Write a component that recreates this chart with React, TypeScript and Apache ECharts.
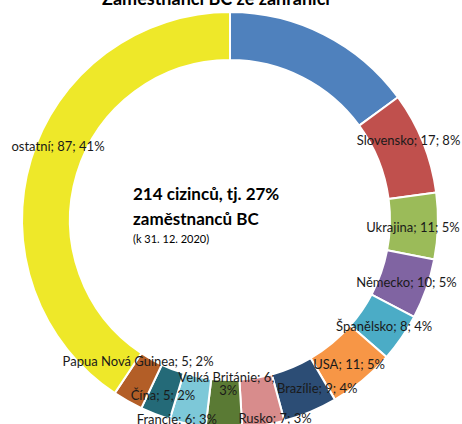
import React, { useEffect, useRef } from "react";
import * as echarts from "echarts";

const categories = [
  "(nepopsáno)",
  "Slovensko",
  "Ukrajina",
  "Německo",
  "Španělsko",
  "USA",
  "Brazílie",
  "Rusko",
  "Velká Británie",
  "Francie",
  "Čína",
  "Papua Nová Guinea",
  "ostatní",
];
const values = [32, 17, 11, 10, 8, 11, 9, 7, 6, 6, 5, 5, 87];
const colors = [
  "#4F81BD",
  "#C0504D",
  "#9BBB59",
  "#8064A2",
  "#4BACC6",
  "#F79646",
  "#2C4D75",
  "#D88C8C",
  "#5A7A34",
  "#7DC8D8",
  "#246A78",
  "#B35E27",
  "#EEE829",
];
const labelOffsets: Record<string, number[]> = {
  Slovensko: [5, -10],
  Ukrajina: [-4, 2],
  Brazílie: [15, -5],
  Rusko: [15, 13],
  "Velká Británie": [2, -23],
  Francie: [-15, 16],
  "Papua Nová Guinea": [0, -22],
  ostatní: [7, -20],
};
const titleText = "Zaměstnanci BC ze zahraničí";
const centerLines = ["214 cizinců, tj. 27%", "zaměstnanců BC", "(k 31. 12. 2020)"];

const FONT = "Lato, 'Open Sans', sans-serif";

export default function App() {
  const ref = useRef<HTMLDivElement>(null);
  useEffect(() => {
    document.body.style.margin = "0";
    const chart = echarts.init(ref.current!, null, { renderer: "svg" });
    const total = values.reduce((a, b) => a + b, 0);
    const data = categories.map((name, i) => {
      const item: any = {
        name,
        value: values[i],
        itemStyle: { color: colors[i] },
      };
      if (i === 0) item.label = { show: false };
      else if (name === "Velká Británie")
        item.label = { offset: labelOffsets[name], width: 112, overflow: "break", align: "center" };
      else if (labelOffsets[name]) item.label = { offset: labelOffsets[name] };
      return item;
    });
    chart.setOption({
      animation: false,
      textStyle: { fontFamily: FONT },
      graphic: [
        {
          type: "text",
          x: 216,
          y: -11,
          style: {
            text: titleText,
            font: `bold 18px ${FONT}`,
            fill: "#000",
            align: "center",
          },
        },
        {
          type: "text",
          x: 133,
          y: 193,
          style: {
            text: centerLines[0],
            font: `bold 17px ${FONT}`,
            fill: "#000",
            verticalAlign: "middle",
          },
        },
        {
          type: "text",
          x: 133,
          y: 218,
          style: {
            text: centerLines[1],
            font: `bold 17px ${FONT}`,
            fill: "#000",
            verticalAlign: "middle",
          },
        },
        {
          type: "text",
          x: 133,
          y: 238,
          style: {
            text: centerLines[2],
            font: `11px ${FONT}`,
            fill: "#000",
            verticalAlign: "middle",
          },
        },
      ],
      series: [
        {
          type: "pie",
          center: [230, 220],
          radius: [160, 208],
          startAngle: 90,
          clockwise: true,
          avoidLabelOverlap: false,
          labelLayout: { hideOverlap: false },
          itemStyle: { borderColor: "#fff", borderWidth: 2 },
          labelLine: { show: false },
          label: {
            show: true,
            position: "inside",
            fontFamily: FONT,
            fontSize: 13,
            color: "#1a1a1a",
            formatter: (p: any) => {
              const pct = Math.round((p.value / total) * 100);
              return `${p.name}; ${p.value}; ${pct}%`;
            },
          },
          emphasis: { disabled: true },
          data,
        },
      ],
    });
    return () => chart.dispose();
  }, []);
  return (
    <div
      ref={ref}
      style={{ width: 462, height: 424, position: "absolute", left: 0, top: 0, background: "#fff" }}
    />
  );
}
